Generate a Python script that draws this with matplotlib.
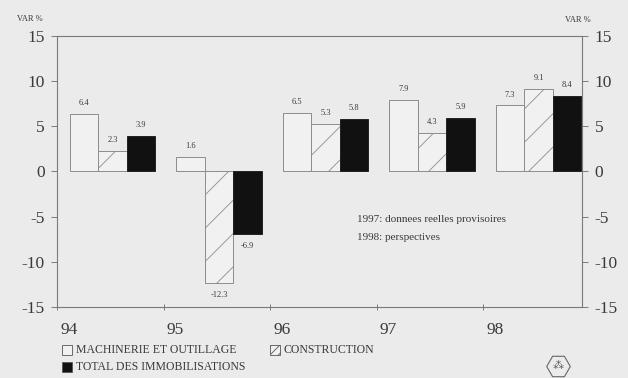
import numpy as np
import matplotlib
matplotlib.use("Agg")
import matplotlib.pyplot as plt
import matplotlib.transforms as mtransforms
from matplotlib.patches import Rectangle
from matplotlib.lines import Line2D

plt.rcParams['font.family'] = ['Liberation Serif', 'DejaVu Serif']
plt.rcParams['axes.unicode_minus'] = False
plt.rcParams['hatch.linewidth'] = 0.6
plt.rcParams['hatch.color'] = '#8a8a8a'

# data
years = ['94', '95', '96', '97', '98']
machinerie = [6.4, 1.6, 6.5, 7.9, 7.3]
construction = [2.3, -12.3, 5.3, 4.3, 9.1]
total = [3.9, -6.9, 5.8, 5.9, 8.4]
yticks = [15, 10, 5, 0, -5, -10, -15]
legend_labels = ['MACHINERIE ET OUTILLAGE', 'CONSTRUCTION', 'TOTAL DES IMMOBILISATIONS']
note_lines = ['1997: donnees reelles provisoires', '1998: perspectives']

bg = '#ebebeb'
edge = '#8c8c8c'
txt = '#3a3a3a'

fig = plt.figure(figsize=(6.28, 3.78), dpi=100, facecolor=bg)
ax = fig.add_axes([0.091, 0.188, 0.836, 0.717])
ax.set_facecolor(bg)

x = np.arange(len(years))
w = 0.267
off = 0.12

ax.bar(x + off, machinerie, w, align='edge', color='#f1f1f1', edgecolor=edge, linewidth=0.7)
ax.bar(x + off + w, construction, w, align='edge', color='#f1f1f1', edgecolor=edge,
       linewidth=0.7, hatch='/')
ax.bar(x + off + 2 * w, total, w, align='edge', color='#111111', edgecolor='#222222', linewidth=0.7)

    # value labels above / below each bar
for k, vals in enumerate([machinerie, construction, total]):
    for i, v in enumerate(vals):
        cx = x[i] + off + w * k + w / 2
        if v >= 0:
            ax.annotate(f'{v:.1f}', (cx, v), xytext=(0, 5), textcoords='offset points',
                        ha='center', va='bottom', fontsize=6, color=txt)
        else:
            ax.annotate(f'{v:.1f}', (cx, v), xytext=(0, -6), textcoords='offset points',
                        ha='center', va='top', fontsize=6, color=txt)

ax.set_xlim(0.03, 4.93)
ax.set_ylim(-15, 15)
ax.set_yticks(yticks)
ax.set_yticklabels([str(t) for t in yticks])
ax.set_xticks(x)
ax.set_xticklabels(years)

for s in ax.spines.values():
    s.set_color('#7a7a7a')
    s.set_linewidth(0.8)

ax.tick_params(axis='y', left=True, right=True, labelleft=True, labelright=True,
               direction='out', length=4, width=0.7, color='#7a7a7a', labelsize=12.5,
               labelcolor=txt, pad=5)
ax.tick_params(axis='x', direction='inout', length=4, width=0.7, color='#7a7a7a',
               labelsize=12.5, labelcolor=txt, pad=9)
shift = mtransforms.ScaledTranslation(3 / 100, 0, fig.dpi_scale_trans)
for lbl in ax.get_xticklabels():
    lbl.set_ha('left')
    lbl.set_transform(lbl.get_transform() + shift)

    # axis unit labels
fig.text(17 / 628, 1 - 19 / 378, 'VAR %', fontsize=6, color=txt, va='center', ha='left')
fig.text(565 / 628, 1 - 20 / 378, 'VAR %', fontsize=6, color=txt, va='center', ha='left')

    # note
for i, line in enumerate(note_lines):
    fig.text(357 / 628, 1 - (219 + 18 * i) / 378, line, fontsize=8, color=txt,
             va='center', ha='left')

    # legend drawn by hand
sq = 10
def legend_item(px, py, label, face, hatch=None):
    r = Rectangle((px / 628, 1 - (py + sq / 2) / 378), sq / 628, sq / 378,
                  transform=fig.transFigure, facecolor=face, edgecolor='#555555',
                  linewidth=0.6, hatch=hatch)
    fig.patches.append(r)
    fig.text((px + sq + 4) / 628, 1 - py / 378, label, fontsize=8.5, color=txt,
             va='center', ha='left')

legend_item(62, 350, legend_labels[0], '#f1f1f1')
legend_item(270, 350, legend_labels[1], '#f1f1f1', hatch='////')
legend_item(62, 367, legend_labels[2], '#111111')

    # logo
lx, ly = 558 / 628, 1 - 366 / 378
fig.add_artist(Line2D([lx], [ly], marker='H', markersize=17, markerfacecolor='none',
                      markeredgecolor='#666666', markeredgewidth=0.8,
                      transform=fig.transFigure))
fig.text(lx, ly, '\u2042', fontsize=8, color='#555555', ha='center', va='center',
         family=['DejaVu Sans'])

fig.savefig('out.png', dpi=100, facecolor=bg)
